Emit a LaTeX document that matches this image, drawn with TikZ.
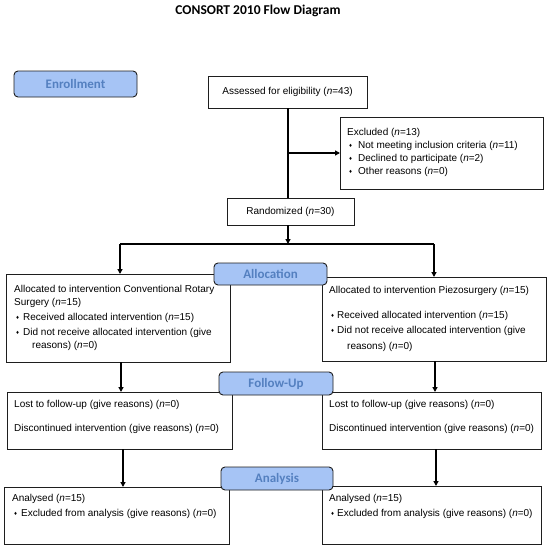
\documentclass[tikz,border=0pt]{standalone}
\usepackage{fontspec}
\setmainfont{Liberation Sans}
\newfontfamily\carlito{Carlito}
\newfontfamily\dejavu{DejaVu Sans}
\usetikzlibrary{arrows.meta}
\definecolor{lblfill}{RGB}{166,196,245}
\definecolor{lbltext}{RGB}{84,128,192}
\definecolor{edge}{RGB}{30,30,30}
\newcommand\itm[1][9pt]{\makebox[#1][l]{\hspace*{1.5pt}\raisebox{1pt}{\dejavu\fontsize{4.5}{4.5}\selectfont ♦}}}
\newcommand\nn{\textit{n}}
\begin{document}
\begin{tikzpicture}[x=1pt,y=-1pt,
  box/.style={draw=edge, line width=0.9pt, fill=white, inner sep=0pt, outer sep=0pt, anchor=north west, font=\fontsize{10}{13}\selectfont},
  stage/.style={draw=edge, line width=0.9pt, fill=lblfill, rounded corners=4pt, inner sep=0pt, outer sep=0pt, anchor=north west, text=lbltext, font=\carlito\bfseries\fontsize{13}{15}\selectfont},
  txt/.style={anchor=north west, inner sep=0pt, align=left, font=\fontsize{10}{13}\selectfont},
  conn/.style={line width=1.3pt, draw=black},
  arr/.style={conn, -{Triangle[length=5pt,width=5pt]}}]
\fill[white] (0,0) rectangle (550,549);
\useasboundingbox (0,0) rectangle (550,549);

\node[anchor=center, inner sep=0pt, font=\carlito\bfseries\fontsize{13.5}{15}\selectfont] (title) at (258,11) {CONSORT 2010 Flow Diagram};

% boxes
\node[box, minimum width=159pt, minimum height=32pt] (assess) at (208,76) {Assessed for eligibility (\nn=43)};
\node[box, minimum width=203pt, minimum height=72pt] (excl) at (340,117) {};
\node[box, minimum width=127pt, minimum height=27pt] (rand) at (227,198) {Randomized (\nn=30)};
\node[box, minimum width=224pt, minimum height=88pt] (allocL) at (6,274) {};
\node[box, minimum width=224pt, minimum height=84pt] (allocR) at (322,277) {};
\node[box, minimum width=225pt, minimum height=57pt] (fuL) at (7,392) {};
\node[box, minimum width=219pt, minimum height=57pt] (fuR) at (322,392) {};
\node[box, minimum width=225pt, minimum height=57pt] (anL) at (4,487) {};
\node[box, minimum width=219pt, minimum height=58pt] (anR) at (322,486) {};

% box texts
\node[txt] (tExcl) at (347,128) {Excluded (\nn=13)\\
\itm[11pt]Not meeting inclusion criteria (\nn=11)\\
\itm[11pt]Declined to participate (\nn=2)\\
\itm[11pt]Other reasons (\nn=0)};
\node[txt] (tAllocL) at (14,285) {Allocated to intervention Conventional Rotary\\
Surgery (\nn=15)\\[2pt]
\itm Received allocated intervention (\nn=15)\\[2pt]
\itm Did not receive allocated intervention (give\\
\hspace*{18pt}reasons) (\nn=0)};
\node[txt] (tAllocR) at (329,286) {Allocated to intervention Piezosurgery (\nn=15)\\[12pt]
\itm[8pt]Received allocated intervention (\nn=15)\\[2pt]
\itm[8pt]Did not receive allocated intervention (give\\[3pt]
\hspace*{18pt}reasons) (\nn=0)};
\node[txt] (tFuL) at (14,400) {Lost to follow-up (give reasons) (\nn=0)\\[11pt]
Discontinued intervention (give reasons) (\nn=0)};
\node[txt] (tFuR) at (329,400) {Lost to follow-up (give reasons) (\nn=0)\\[11pt]
Discontinued intervention (give reasons) (\nn=0)};
\node[txt] (tAnL) at (12,494) {Analysed (\nn=15)\\[2pt]
\itm Excluded from analysis (give reasons) (\nn=0)};
\node[txt] (tAnR) at (329,494) {Analysed (\nn=15)\\[2pt]
\itm[8pt]Excluded from analysis (give reasons) (\nn=0)};

% connectors
\coordinate (vtop) at ([xshift=0.5pt]assess.south);
\draw[conn] (vtop) -- (vtop |- rand.north);
\coordinate (j1) at (vtop |- excl.west);
\draw[arr] (j1) -- (excl.west);
\coordinate (split) at (288,244);
\coordinate (sL) at (120,244);
\coordinate (sR) at (434,244);
\draw[arr] (split |- rand.south) -- (split);
\draw[conn] (sL) -- (sR);
\draw[arr] (sL) -- (sL |- allocL.north);
\draw[arr] (sR) -- (sR |- allocR.north);
\draw[arr] ([xshift=3pt]allocL.south) -- ([xshift=3pt]allocL.south |- fuL.north);
\draw[arr] ([xshift=1pt]allocR.south) -- ([xshift=1pt]allocR.south |- fuR.north);
\draw[arr] ([xshift=3.5pt]fuL.south) -- ([xshift=3.5pt]fuL.south |- anL.north);
\draw[arr] ([xshift=4.5pt]fuR.south) -- ([xshift=4.5pt]fuR.south |- anR.north);

% stage labels
\node[stage, minimum width=123pt, minimum height=26pt] (enr) at (14,71) {Enrollment};
\node[stage, minimum width=113pt, minimum height=22pt] (allocLbl) at (214,263) {Allocation};
\node[stage, minimum width=114pt, minimum height=23pt] (fuLbl) at (219,372) {Follow-Up};
\node[stage, minimum width=112pt, minimum height=23pt] (anLbl) at (221,467) {Analysis};
\end{tikzpicture}
\end{document}
